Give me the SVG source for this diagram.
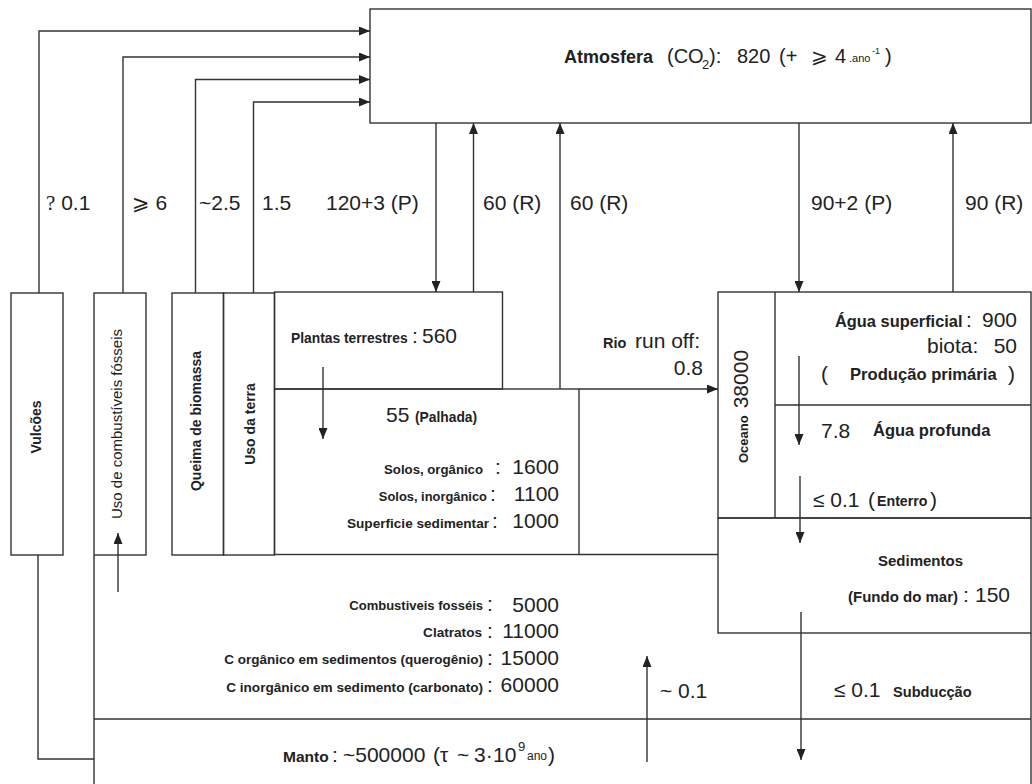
<svg xmlns="http://www.w3.org/2000/svg" width="1032" height="784" viewBox="0 0 1032 784">
<defs>
<marker id="ah" markerUnits="userSpaceOnUse" markerWidth="11" markerHeight="9" refX="11" refY="4.5" orient="auto"><path d="M0,0 L11,4.5 L0,9 z" fill="#222"/></marker>
</defs>
<style>
.box{fill:none;stroke:#333;stroke-width:1.4}
.ln{fill:none;stroke:#333;stroke-width:1.4}
.ar{fill:none;stroke:#333;stroke-width:1.4;marker-end:url(#ah)}
text{font-family:"Liberation Sans",Arial,sans-serif;fill:#222}
.n{font-size:21px}
.b{font-weight:bold}
.v{font-weight:bold;font-size:14px;text-anchor:middle}
.e{text-anchor:end}
</style>
<rect width="1032" height="784" fill="#fff"/>

<g id="atmosfera">
<rect class="box" x="370" y="9" width="661" height="114"/>
<text class="b" x="564" y="63" style="font-size:18px">Atmosfera</text>
<text x="667" y="63" style="font-size:20px">(CO<tspan x="702" dy="6" style="font-size:13px">2</tspan><tspan x="709" dy="-6">):</tspan><tspan x="737">820</tspan><tspan x="779">(+</tspan><tspan x="811" style="font-family:'DejaVu Sans',sans-serif">⩾</tspan><tspan x="835">4</tspan><tspan x="849" dy="-1" style="font-size:11px">.ano</tspan><tspan x="872" dy="-8" style="font-size:9px">-1</tspan><tspan x="885" dy="9">)</tspan></text>
</g>

<g id="vulcoes">
<rect class="box" x="11" y="293" width="52" height="262"/>
<text class="v" transform="translate(41,427) rotate(-90)">Vulcões</text>
</g>
<g id="uso-combustiveis">
<rect class="box" x="94" y="293" width="52" height="262"/>
<text transform="translate(122,424) rotate(-90)" style="font-size:15px;text-anchor:middle">Uso de combustíveis fósseis</text>
</g>
<g id="queima-biomassa">
<rect class="box" x="172" y="293" width="51.5" height="262"/>
<text class="v" transform="translate(201,421) rotate(-90)">Queima de biomassa</text>
</g>
<g id="uso-terra">
<rect class="box" x="223.5" y="293" width="51" height="262"/>
<text class="v" transform="translate(255,424) rotate(-90)">Uso da terra</text>
</g>

<g id="plantas">
<rect class="box" x="274.5" y="292" width="228" height="97"/>
<text class="b" x="291" y="343" style="font-size:13.8px">Plantas terrestres</text>
<text class="n" x="412" y="343">:</text>
<text class="n" x="422" y="343">560</text>
</g>

<g id="solos">
<rect class="box" x="274.5" y="389" width="304.5" height="165.5"/>
<text class="n" x="386" y="422">55</text>
<text class="b" x="415" y="422" style="font-size:13.8px">(Palhada)</text>
<text class="b e" x="483" y="474" style="font-size:13.2px">Solos, orgânico</text>
<text class="n" x="495" y="474">:</text>
<text class="n e" x="559" y="474">1600</text>
<text class="b e" x="487" y="501" style="font-size:12.9px">Solos, inorgânico</text>
<text class="n" x="490" y="501">:</text>
<text class="n e" x="559" y="501">1100</text>
<text class="b e" x="489" y="528" style="font-size:13.6px">Superficie sedimentar</text>
<text class="n" x="492" y="528">:</text>
<text class="n e" x="559" y="528">1000</text>
</g>

<g id="oceano">
<rect class="box" x="718" y="292" width="313" height="226"/>
<path class="ln" d="M775,292 V518 M775,405 H1031"/>
<text transform="translate(748,463) rotate(-90)"><tspan style="font-weight:bold;font-size:13px">Oceano</tspan><tspan dx="7" style="font-size:21px">38000</tspan></text>
<text class="b" x="835" y="327" style="font-size:16.4px">Água superficial</text>
<text class="n" x="966" y="327">:</text>
<text class="n e" x="1017" y="327">900</text>
<text class="n" x="927" y="353">biota:</text>
<text class="n e" x="1017" y="353">50</text>
<text class="n" x="821" y="381">(</text>
<text class="b" x="850" y="380" style="font-size:16.6px">Produção primária</text>
<text class="n" x="1008" y="381">)</text>
<text class="n" x="821" y="438">7.8</text>
<text class="b" x="873" y="436" style="font-size:16.5px">Água profunda</text>
<text class="n" x="813" y="507">≤ 0.1</text>
<text class="n" x="868" y="507">(</text>
<text class="b" x="877" y="506" style="font-size:14.2px">Enterro</text>
<text class="n" x="930" y="507">)</text>
</g>

<g id="sedimentos">
<rect class="box" x="718" y="518" width="313" height="115"/>
<text class="b" x="878" y="566" style="font-size:15px">Sedimentos</text>
<text class="b" x="848" y="602" style="font-size:15px">(Fundo do mar)</text>
<text class="n" x="963" y="602">:</text>
<text class="n" x="975" y="602">150</text>
</g>

<g id="litosfera">
<path class="ln" d="M94,555 V784 M579,554.5 H718 M1031,633 V784 M94,719 H1031"/>
<text class="b e" x="483" y="610" style="font-size:13px">Combustiveis fosséis</text>
<text class="n" x="487" y="611">:</text>
<text class="n e" x="559" y="612">5000</text>
<text class="b e" x="482" y="637" style="font-size:13.6px">Clatratos</text>
<text class="n" x="487" y="638">:</text>
<text class="n e" x="559" y="638">11000</text>
<text class="b e" x="483" y="664" style="font-size:13.5px">C orgânico em sedimentos (querogênio)</text>
<text class="n" x="487" y="665">:</text>
<text class="n e" x="559" y="665">15000</text>
<text class="b e" x="483" y="692" style="font-size:13.6px">C inorgânico em sedimento (carbonato)</text>
<text class="n" x="487" y="692">:</text>
<text class="n e" x="559" y="692">60000</text>
<text class="n" x="660" y="698">~ 0.1</text>
<text class="n" x="834" y="697">≤ 0.1</text>
<text class="b" x="893" y="697" style="font-size:14.6px">Subducção</text>
</g>

<g id="manto">
<text class="b" x="283" y="762" style="font-size:15.5px">Manto</text>
<text class="n" x="332" y="762">:</text>
<text class="n" x="343" y="762">~500000</text>
<text class="n" x="433" y="762">(τ</text>
<text class="n" x="457" y="762">~</text>
<text class="n" x="474" y="762">3·<tspan x="493">10</tspan></text>
<text x="518" y="751" style="font-size:13px">9</text>
<text x="527" y="760" style="font-size:12px">ano</text>
<text class="n" x="548" y="762">)</text>
</g>

<g id="connectors">
<path class="ar" d="M39,293 V31 H370"/>
<path class="ar" d="M123,293 V57 H370"/>
<path class="ar" d="M195.5,293 V79.5 H370"/>
<path class="ar" d="M253.5,293 V102 H370"/>
<path class="ar" d="M436,123 V292"/>
<path class="ar" d="M473.5,292 V123"/>
<path class="ar" d="M560,389 V123"/>
<path class="ar" d="M799,123 V292"/>
<path class="ar" d="M953,292 V123"/>
<path class="ar" d="M579,389 H718"/>
<path class="ar" d="M323,367 V439"/>
<path class="ar" d="M799,356 V445"/>
<path class="ar" d="M800,476 V543"/>
<path class="ar" d="M118,592 V533"/>
<path class="ar" d="M647,762 V656"/>
<path class="ar" d="M801,612 V760"/>
<path class="ln" d="M38,555 V759 H94"/>
<text class="n" x="46" y="210"><tspan style="font-family:'Liberation Serif',serif">?</tspan> 0.1</text>
<text class="n" x="132" y="210"><tspan style="font-family:'DejaVu Sans',sans-serif">⩾</tspan> 6</text>
<text class="n" x="199" y="210">~2.5</text>
<text class="n" x="262" y="210">1.5</text>
<text class="n" x="326" y="210">120+3 (P)</text>
<text class="n" x="483" y="210">60 (R)</text>
<text class="n" x="570" y="210">60 (R)</text>
<text class="n" x="811" y="210">90+2 (P)</text>
<text class="n" x="965" y="210">90 (R)</text>
<text class="b" x="603" y="348" style="font-size:14.5px">Rio</text>
<text class="n" x="635" y="348">run off:</text>
<text class="n e" x="703" y="375">0.8</text>
</g>
</svg>
